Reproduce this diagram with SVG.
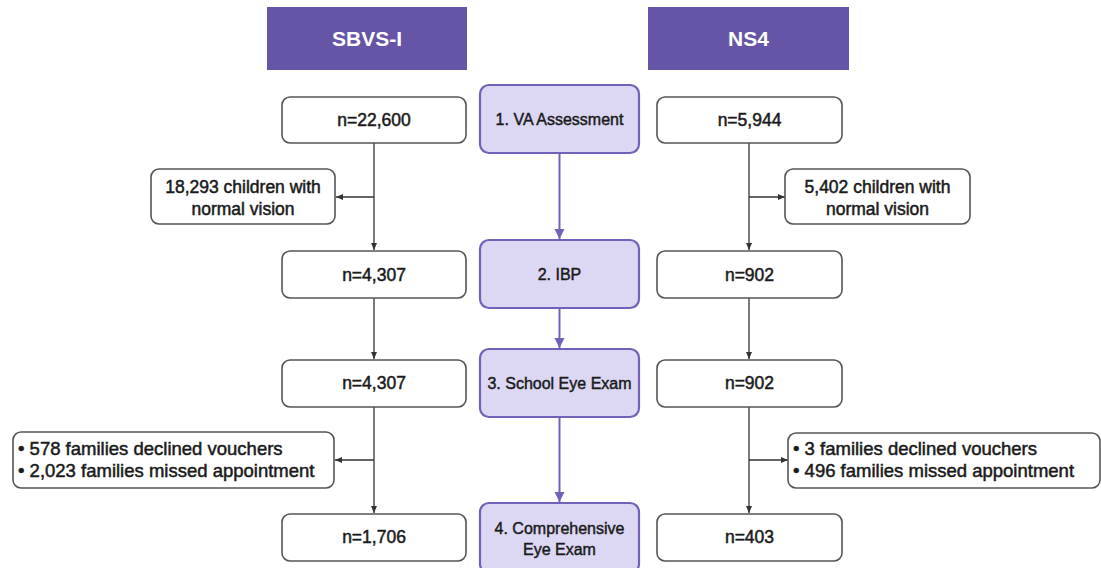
<svg xmlns="http://www.w3.org/2000/svg" width="1101" height="568" viewBox="0 0 1101 568">
<defs>
<style>
.hdr{fill:#6655a7}
.hdrt{font-family:"Liberation Sans",Arial,sans-serif;font-size:21px;font-weight:bold;fill:#ffffff;text-anchor:middle}
.box{fill:#ffffff;stroke:#555555;stroke-width:1.6}
.step{fill:#dcd8f4;stroke:#7360b8;stroke-width:2.2}
.t{font-family:"Liberation Sans",Arial,sans-serif;font-size:17.5px;fill:#1a1a1a;stroke:#1a1a1a;stroke-width:0.5;text-anchor:middle}
.tl{font-family:"Liberation Sans",Arial,sans-serif;font-size:18.5px;fill:#1a1a1a;stroke:#1a1a1a;stroke-width:0.5}
.st{font-family:"Liberation Sans",Arial,sans-serif;font-size:16px;fill:#1a1a1a;stroke:#1a1a1a;stroke-width:0.45;text-anchor:middle}
.ln{fill:none;stroke:#333333;stroke-width:1.3}
.pl{fill:none;stroke:#7360b8;stroke-width:2}
</style>
<marker id="ab" markerWidth="8" markerHeight="8" refX="7" refY="4" orient="auto" markerUnits="userSpaceOnUse">
<path d="M0,1 L7,4 L0,7 Z" fill="#333333"/>
</marker>
<marker id="ap" markerWidth="12" markerHeight="12" refX="10" refY="5" orient="auto" markerUnits="userSpaceOnUse">
<path d="M0,0 L10,5 L0,10 Z" fill="#7360b8"/>
</marker>
</defs>

<g id="header-sbvs">
<rect class="hdr" x="267" y="7" width="200" height="63"/>
<text class="hdrt" x="367" y="46">SBVS-I</text>
</g>
<g id="header-ns4">
<rect class="hdr" x="648" y="7" width="201" height="63"/>
<text class="hdrt" x="748.5" y="46">NS4</text>
</g>

<g id="connectors">
<path class="ln" d="M374,143 V250" marker-end="url(#ab)"/>
<path class="ln" d="M374,197 H336" marker-end="url(#ab)"/>
<path class="ln" d="M374,298 V359" marker-end="url(#ab)"/>
<path class="ln" d="M374,407 V513" marker-end="url(#ab)"/>
<path class="ln" d="M374,460 H335" marker-end="url(#ab)"/>
<path class="ln" d="M749,143 V250" marker-end="url(#ab)"/>
<path class="ln" d="M749,197 H785" marker-end="url(#ab)"/>
<path class="ln" d="M749,298 V359" marker-end="url(#ab)"/>
<path class="ln" d="M749,407 V513" marker-end="url(#ab)"/>
<path class="ln" d="M749,460 H788" marker-end="url(#ab)"/>
<path class="pl" d="M559.5,153 V239" marker-end="url(#ap)"/>
<path class="pl" d="M559.5,308 V348" marker-end="url(#ap)"/>
<path class="pl" d="M559.5,417 V502" marker-end="url(#ap)"/>
</g>

<g id="sbvs-n1"><rect class="box" x="282" y="97" width="184" height="46" rx="8"/><text class="t" x="374" y="126">n=22,600</text></g>
<g id="sbvs-normal"><rect class="box" x="151" y="169" width="184" height="55" rx="8"/><text class="t" x="243" y="193">18,293 children with</text><text class="t" x="243" y="215">normal vision</text></g>
<g id="sbvs-n2"><rect class="box" x="282" y="251" width="184" height="47" rx="8"/><text class="t" x="374" y="281">n=4,307</text></g>
<g id="sbvs-n3"><rect class="box" x="282" y="360" width="184" height="47" rx="8"/><text class="t" x="374" y="389">n=4,307</text></g>
<g id="sbvs-declined"><rect class="box" x="13" y="432" width="321" height="56" rx="8"/><text class="tl" x="18" y="455">• 578 families declined vouchers</text><text class="tl" x="18" y="477">• 2,023 families missed appointment</text></g>
<g id="sbvs-n4"><rect class="box" x="282" y="514" width="184" height="47" rx="8"/><text class="t" x="374" y="543">n=1,706</text></g>

<g id="step1"><rect class="step" x="480" y="85" width="159" height="68" rx="9"/><text class="st" x="559.5" y="125">1. VA Assessment</text></g>
<g id="step2"><rect class="step" x="480" y="240" width="159" height="68" rx="9"/><text class="st" x="559.5" y="280">2. IBP</text></g>
<g id="step3"><rect class="step" x="480" y="349" width="159" height="68" rx="9"/><text class="st" x="559.5" y="389">3. School Eye Exam</text></g>
<g id="step4"><rect class="step" x="480" y="503" width="159" height="70" rx="9"/><text class="st" x="559.5" y="534">4. Comprehensive</text><text class="st" x="559.5" y="555">Eye Exam</text></g>

<g id="ns4-n1"><rect class="box" x="657" y="97" width="185" height="46" rx="8"/><text class="t" x="749.5" y="126">n=5,944</text></g>
<g id="ns4-normal"><rect class="box" x="785" y="169" width="185" height="55" rx="8"/><text class="t" x="877.5" y="193">5,402 children with</text><text class="t" x="877.5" y="215">normal vision</text></g>
<g id="ns4-n2"><rect class="box" x="657" y="251" width="185" height="47" rx="8"/><text class="t" x="749.5" y="281">n=902</text></g>
<g id="ns4-n3"><rect class="box" x="657" y="360" width="185" height="47" rx="8"/><text class="t" x="749.5" y="389">n=902</text></g>
<g id="ns4-declined"><rect class="box" x="788" y="433" width="312" height="55" rx="8"/><text class="tl" x="793" y="455">• 3 families declined vouchers</text><text class="tl" x="793" y="477">• 496 families missed appointment</text></g>
<g id="ns4-n4"><rect class="box" x="657" y="514" width="185" height="47" rx="8"/><text class="t" x="749.5" y="543">n=403</text></g>
</svg>
